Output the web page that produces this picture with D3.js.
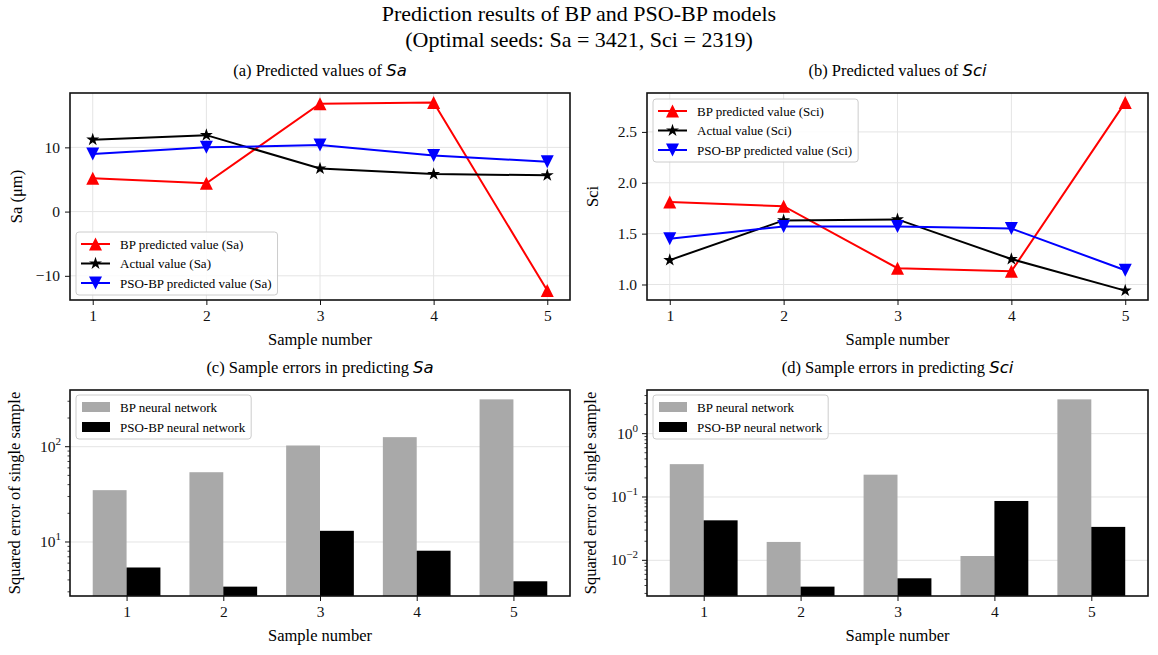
<!DOCTYPE html>
<html>
<head>
<meta charset="utf-8">
<script src="https://cdn.jsdelivr.net/npm/d3@7"></script>
<style>
  body { margin: 0; background: #fff; }
  svg { font-family: "Liberation Serif", "Times New Roman", serif; }
</style>
</head>
<body>
<div id="chart"></div>
<script>
// ─── Data ──────────────────────────────────────────────────────
const samples    = [1, 2, 3, 4, 5];
const saBP       = [5.2, 4.4, 16.8, 17.0, -12.3];
const saActual   = [11.2, 11.9, 6.7, 5.85, 5.65];
const saPSO      = [8.95, 10.0, 10.35, 8.75, 7.75];
const sciBP      = [1.81, 1.77, 1.16, 1.13, 2.79];
const sciActual  = [1.24, 1.63, 1.64, 1.25, 0.94];
const sciPSO     = [1.45, 1.57, 1.57, 1.55, 1.14];
const saErrBP    = [35, 54, 103, 126, 314];
const saErrPSO   = [5.4, 3.4, 13.1, 8.1, 3.87];
const sciErrBP   = [0.33, 0.0195, 0.225, 0.0117, 3.48];
const sciErrPSO  = [0.0428, 0.00384, 0.0052, 0.0865, 0.0337];
const saTicks    = [-10, 0, 10];
const sciTicks   = [1.0, 1.5, 2.0, 2.5];

// ─── Figure ────────────────────────────────────────────────────
const W = 1158, H = 655;
const svg = d3.select("#chart").append("svg")
    .attr("width", W).attr("height", H);

svg.append("text").attr("x", 579).attr("y", 21)
    .attr("text-anchor", "middle").style("font-size", "22px")
    .text("Prediction results of BP and PSO-BP models");
svg.append("text").attr("x", 579).attr("y", 47)
    .attr("text-anchor", "middle").style("font-size", "22px")
    .text("(Optimal seeds: Sa = 3421, Sci = 2319)");

const boxes = {
    a: { x0: 70,  x1: 570,  y0: 93,  y1: 300 },
    b: { x0: 647, x1: 1148, y0: 93,  y1: 300 },
    c: { x0: 70,  x1: 570,  y0: 390, y1: 596 },
    d: { x0: 647, x1: 1148, y0: 390, y1: 596 }
};
const GRID = "#e4e4e4";

function marginDomain(vals, frac) {
    const [lo, hi] = d3.extent(vals);
    const pad = (hi - lo) * frac;
    return [lo - pad, hi + pad];
}

function panelTitle(b, label, italic) {
    const t = svg.append("text")
        .attr("x", (b.x0 + b.x1) / 2).attr("y", b.y0 - 17)
        .attr("text-anchor", "middle").style("font-size", "16.5px");
    t.append("tspan").text(label);
    t.append("tspan").style("font-family", "DejaVu Sans")
        .style("font-style", "oblique").text(italic);
}

function xLabel(b, y) {
    svg.append("text").attr("x", (b.x0 + b.x1) / 2).attr("y", y)
        .attr("text-anchor", "middle").style("font-size", "16.5px")
        .text("Sample number");
}
function yLabel(x, b, txt) {
    const cy = (b.y0 + b.y1) / 2;
    svg.append("text").attr("transform", `translate(${x},${cy}) rotate(-90)`)
        .attr("text-anchor", "middle").style("font-size", "16.5px")
        .text(txt);
}

function frame(b) {
    svg.append("rect").attr("x", b.x0).attr("y", b.y0)
        .attr("width", b.x1 - b.x0).attr("height", b.y1 - b.y0)
        .attr("fill", "none").attr("stroke", "#111").attr("stroke-width", 1.6);
}

function styleAxis(g) {
    g.select(".domain").remove();
    g.selectAll(".tick line").attr("stroke", "#111").attr("stroke-width", 1);
    g.selectAll(".tick text").style("font-family", "Liberation Serif")
        .style("font-size", "15.5px").attr("fill", "#111");
}

// marker paths (matplotlib-like, size = full width)
function markerPath(type, s) {
    const r = s / 2;
    if (type === "up")   return `M0,${-r}L${r},${r}L${-r},${r}Z`;
    if (type === "down") return `M0,${r}L${r},${-r}L${-r},${-r}Z`;
    // star
    const pts = [];
    for (let i = 0; i < 10; i++) {
        const rr = i % 2 === 0 ? r * 1.05 : r * 1.05 * 0.382;
        const a = -Math.PI / 2 + i * Math.PI / 5;
        pts.push([rr * Math.cos(a), rr * Math.sin(a)]);
    }
    return "M" + pts.map(p => p.join(",")).join("L") + "Z";
}

function legendBox(x, y, entries, kind) {
    const g = svg.append("g").attr("transform", `translate(${x},${y})`);
    const bg = g.append("rect").attr("rx", 3)
        .attr("fill", "rgba(255,255,255,0.85)").attr("stroke", "#cccccc");
    const rowH = kind === "line" ? 19.5 : 20;
    let maxW = 0;
    entries.forEach((e, i) => {
        const cy = 12 + i * rowH;
        if (kind === "line") {
            g.append("line").attr("x1", 5).attr("x2", 34).attr("y1", cy).attr("y2", cy)
                .attr("stroke", e.color).attr("stroke-width", 2);
            g.append("path").attr("d", markerPath(e.marker, 13))
                .attr("transform", `translate(19.5,${cy})`).attr("fill", e.color);
        } else {
            g.append("rect").attr("x", 6).attr("y", cy - 5)
                .attr("width", 28).attr("height", 10).attr("fill", e.color);
        }
        const t = g.append("text").attr("x", 44).attr("y", cy + 4.5)
            .style("font-size", "13px").text(e.label);
        maxW = Math.max(maxW, t.node().getComputedTextLength());
    });
    bg.attr("width", 44 + maxW + 6).attr("height", 12 + (entries.length - 1) * rowH + 12);
}

// ─── Line panels ───────────────────────────────────────────────
function linePanel(b, series, ticks, fmt) {
    const x = d3.scaleLinear().domain([0.8, 5.2]).range([b.x0, b.x1]);
    const all = series.flatMap(s => s.values);
    const y = d3.scaleLinear().domain(marginDomain(all, 0.05)).range([b.y1, b.y0]);

    const gr = svg.append("g");
    samples.forEach(s => gr.append("line").attr("x1", x(s)).attr("x2", x(s))
        .attr("y1", b.y0).attr("y2", b.y1).attr("stroke", GRID));
    ticks.forEach(t => gr.append("line").attr("x1", b.x0).attr("x2", b.x1)
        .attr("y1", y(t)).attr("y2", y(t)).attr("stroke", GRID));

    svg.append("g").attr("transform", `translate(0,${b.y1})`)
        .call(d3.axisBottom(x).tickValues(samples).tickFormat(d3.format("d"))
            .tickSizeOuter(0).tickSize(5).tickPadding(5))
        .call(styleAxis);
    svg.append("g").attr("transform", `translate(${b.x0},0)`)
        .call(d3.axisLeft(y).tickValues(ticks).tickFormat(fmt)
            .tickSizeOuter(0).tickSize(5).tickPadding(5))
        .call(styleAxis);

    const line = d3.line().x((d, i) => x(samples[i])).y(d => y(d));
    series.forEach(s => {
        svg.append("path").datum(s.values).attr("d", line)
            .attr("fill", "none").attr("stroke", s.color).attr("stroke-width", 2);
        svg.append("g").selectAll("path").data(s.values).join("path")
            .attr("d", markerPath(s.marker, 13))
            .attr("transform", (d, i) => `translate(${x(samples[i])},${y(d)})`)
            .attr("fill", s.color);
    });
    frame(b);
}

// ─── Bar panels (log) ──────────────────────────────────────────
function barPanel(b, bp, pso) {
    const bw = 0.35;
    const idx = samples.map((s, i) => i);
    const x = d3.scaleLinear()
        .domain(marginDomain([-bw, samples.length - 1 + bw], 0.05))
        .range([b.x0, b.x1]);
    const logs = bp.concat(pso).map(v => Math.log10(v));
    const [l0, l1] = marginDomain(logs, 0.05);
    const y = d3.scaleLog().domain([10 ** l0, 10 ** l1]).range([b.y1, b.y0]);

    const majors = d3.range(Math.ceil(l0), Math.floor(l1) + 1);
    const minors = [];
    for (let k = Math.floor(l0); k <= Math.ceil(l1); k++)
        for (let m = 2; m <= 9; m++) {
            const v = m * 10 ** k;
            if (v >= 10 ** l0 && v <= 10 ** l1) minors.push(v);
        }

    majors.forEach(k => svg.append("line").attr("x1", b.x0).attr("x2", b.x1)
        .attr("y1", y(10 ** k)).attr("y2", y(10 ** k)).attr("stroke", GRID));

    svg.append("g").selectAll("rect").data(bp).join("rect")
        .attr("x", (d, i) => x(idx[i] - bw)).attr("width", x(bw) - x(0))
        .attr("y", d => y(d)).attr("height", d => b.y1 - y(d))
        .attr("fill", "#a9a9a9");
    svg.append("g").selectAll("rect").data(pso).join("rect")
        .attr("x", (d, i) => x(idx[i])).attr("width", x(bw) - x(0))
        .attr("y", d => y(d)).attr("height", d => b.y1 - y(d))
        .attr("fill", "#000");

    svg.append("g").attr("transform", `translate(0,${b.y1})`)
        .call(d3.axisBottom(x).tickValues(idx).tickFormat(i => samples[i])
            .tickSizeOuter(0).tickSize(5).tickPadding(5))
        .call(styleAxis);

    const ya = svg.append("g").attr("transform", `translate(${b.x0},0)`);
    minors.forEach(v => ya.append("line").attr("x1", -2.5).attr("x2", 0)
        .attr("y1", y(v)).attr("y2", y(v)).attr("stroke", "#111").attr("stroke-width", 0.8));
    majors.forEach(k => {
        const yy = y(10 ** k);
        ya.append("line").attr("x1", -5).attr("x2", 0).attr("y1", yy).attr("y2", yy)
            .attr("stroke", "#111");
        const t = ya.append("text").attr("x", -9).attr("y", yy + 5)
            .attr("text-anchor", "end").style("font-size", "15.5px").attr("fill", "#111");
        t.append("tspan").text("10");
        t.append("tspan").attr("dy", -7).style("font-size", "11px")
            .text(k < 0 ? "\u2212" + (-k) : k);
    });
    frame(b);
}

// ─── Draw ──────────────────────────────────────────────────────
const saSeries = [
    { values: saBP,     color: "#ff0000", marker: "up",   label: "BP predicted value (Sa)" },
    { values: saActual, color: "#000000", marker: "star", label: "Actual value (Sa)" },
    { values: saPSO,    color: "#0000ff", marker: "down", label: "PSO-BP predicted value (Sa)" }
];
const sciSeries = [
    { values: sciBP,     color: "#ff0000", marker: "up",   label: "BP predicted value (Sci)" },
    { values: sciActual, color: "#000000", marker: "star", label: "Actual value (Sci)" },
    { values: sciPSO,    color: "#0000ff", marker: "down", label: "PSO-BP predicted value (Sci)" }
];
const barEntries = [
    { color: "#a9a9a9", label: "BP neural network" },
    { color: "#000000", label: "PSO-BP neural network" }
];

linePanel(boxes.a, saSeries, saTicks, d3.format("d"));
linePanel(boxes.b, sciSeries, sciTicks, d3.format(".1f"));
barPanel(boxes.c, saErrBP, saErrPSO);
barPanel(boxes.d, sciErrBP, sciErrPSO);

panelTitle(boxes.a, "(a) Predicted values of ", "Sa");
panelTitle(boxes.b, "(b) Predicted values of ", "Sci");
panelTitle(boxes.c, "(c) Sample errors in predicting ", "Sa");
panelTitle(boxes.d, "(d) Sample errors in predicting ", "Sci");

xLabel(boxes.a, 345); xLabel(boxes.b, 345);
xLabel(boxes.c, 641); xLabel(boxes.d, 641);
yLabel(22, boxes.a, "Sa (\u03bcm)");
yLabel(598, boxes.b, "Sci");
yLabel(20, boxes.c, "Squared error of single sample");
yLabel(596, boxes.d, "Squared error of single sample");

legendBox(76, 232, saSeries, "line");
legendBox(653, 99, sciSeries, "line");
legendBox(76, 395, barEntries, "bar");
legendBox(653, 395, barEntries, "bar");
</script>
</body>
</html>
